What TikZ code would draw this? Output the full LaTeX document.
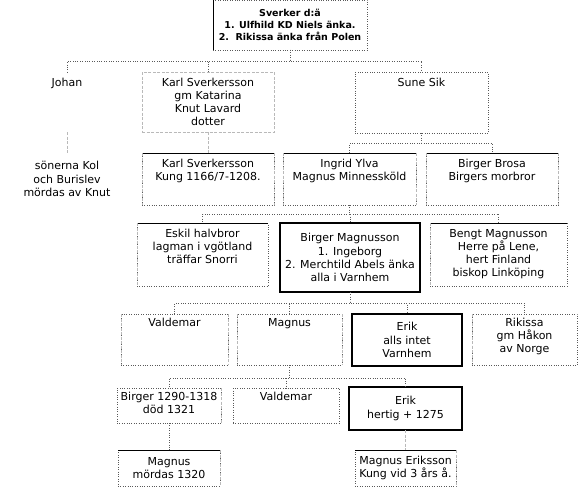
\documentclass[tikz,border=0pt]{standalone}
\usepackage{fontspec}
\setmainfont{DejaVu Sans}
% top aligned and centred card text
\newcommand{\card}[4][6pt]{\parbox[c][#3][t]{#2}{\centering\vspace*{#1}#4\par}}
\newcommand{\cardmid}[3]{\parbox[c][#2][c]{#1}{\centering #3\par}}
\begin{document}
\begin{tikzpicture}[x=1pt,y=-1pt,
  font=\fontsize{11}{13.2}\selectfont,
  box/.style={draw=black!65,dotted,inner sep=0pt,outer sep=0pt,anchor=north west},
  bare/.style={inner sep=0pt,outer sep=0pt,anchor=north west},
  heavy/.style={draw=black,solid,line width=2.4pt,inner sep=0pt,outer sep=0pt,anchor=north west},
  link/.style={draw=black!65,dotted},
  glink/.style={draw=gray!55,dash pattern=on 3pt off 1.5pt,line width=0.9pt},
  lid/.style={append after command={(\tikzlastnode.north west) edge[solid,draw=black,line width=0.8pt] (\tikzlastnode.north east)}},
  wall/.style={append after command={(\tikzlastnode.north west) edge[solid,draw=black,line width=0.8pt] (\tikzlastnode.south west)}},
  lgray/.style={append after command={(\tikzlastnode.north west) edge[glink] (\tikzlastnode.south west)}},
  rgray/.style={append after command={(\tikzlastnode.north east) edge[glink] (\tikzlastnode.south east)}}]
\useasboundingbox (0,0) rectangle (580,487);
% Sverker and his children
\node[box,wall,font=\bfseries\fontsize{9.5}{12}\selectfont] (sverker) at (213,0) {\cardmid{154pt}{50pt}{Sverker d:ä\\1. Ulfhild KD Niels änka.\\2.\ \ Rikissa änka från Polen}};
\node[bare] (johan) at (1,72) {\card{132pt}{60pt}{Johan}};
\node[box,draw=gray!55,dash pattern=on 3pt off 1.5pt,line width=0.9pt] (karl) at (142,72) {\card{132pt}{60pt}{Karl Sverkersson\\gm Katarina\\Knut Lavard\\dotter}};
\node[box] (sune) at (355,72) {\card{133pt}{61pt}{Sune Sik}};
% second generation
\node[bare] (kol) at (1,153) {\cardmid{132pt}{52pt}{sönerna Kol\\och Burislev\\mördas av Knut}};
\node[box,lid,lgray,rgray] (karlkung) at (142,153) {\card{132pt}{52pt}{Karl Sverkersson\\Kung 1166/7-1208.}};
\node[box,lid,lgray,rgray] (ingrid) at (283,153) {\card{133pt}{52pt}{Ingrid Ylva\\Magnus Minnessköld}};
\node[box,lid,lgray,rgray] (brosa) at (426,153) {\card{132pt}{52pt}{Birger Brosa\\Birgers morbror}};
% Ingrid's sons
\node[box,lid,lgray] (eskil) at (137,223) {\card{131pt}{63pt}{Eskil halvbror\\lagman i vgötland\\träffar Snorri}};
\node[heavy] (birger) at (280,223) {\cardmid{140pt}{69pt}{Birger Magnusson\\1. Ingeborg\\2. Merchtild Abels änka\\alla i Varnhem}};
\node[box,lid,lgray] (bengt) at (430,223) {\card{137pt}{63pt}{Bengt Magnusson\\Herre på Lene,\\hert Finland\\biskop Linköping}};
% Birger's children
\node[box,lgray,rgray] (valdemar) at (121,314) {\card[4pt]{107pt}{51pt}{Valdemar}};
\node[box,lgray,rgray] (magnus) at (237,314) {\card[4pt]{105pt}{51pt}{Magnus}};
\node[heavy] (erik) at (352,314) {\cardmid{110pt}{52pt}{Erik\\alls intet\\Varnhem}};
\node[box,lgray] (rikissa) at (472,314) {\card[4pt]{105pt}{51pt}{Rikissa\\gm Håkon\\av Norge}};
% Magnus' children
\node[box,rgray] (birgerk) at (117,388) {\card[4pt]{104pt}{35pt}{Birger 1290-1318\\död 1321}};
\node[box] (valdemarb) at (233,388) {\card[4pt]{106pt}{35pt}{Valdemar}};
\node[heavy] (erikh) at (349,387) {\cardmid{113pt}{43pt}{Erik\\hertig + 1275}};
% grandchildren
\node[box,lid,rgray] (magnusm) at (118,450) {\cardmid{102pt}{36pt}{Magnus\\mördas 1320}};
\node[box,lid,rgray] (magnuse) at (355,450) {\cardmid{101pt}{36pt}{Magnus Eriksson\\Kung vid 3 års å.}};
% Draw the connectors
\foreach \c in {johan,karl,sune}
  \draw[link] (sverker.south) -- ++(0,11) -| (\c.north);
\draw[glink] (johan.south) -- (kol.north);
\draw[glink] (karl.south) -- (karlkung.north);
\foreach \c in {ingrid,brosa}
  \draw[link] (sune.south) -- ++(0,10) -| (\c.north);
\foreach \c in {eskil,birger,bengt}
  \draw[link] (ingrid.south) -- ++(0,9) -| (\c.north);
\foreach \c in {valdemar,magnus,erik,rikissa}
  \draw[link] (birger.south) -- ++(0,11) -| (\c.north);
\foreach \c in {birgerk,valdemarb,erikh}
  \draw[link] (magnus.south) -- ++(0,13) -| (\c.north);
\draw[link] (birgerk.south) -- (magnusm.north);
\draw[glink] (erikh.south) -- (magnuse.north);
\end{tikzpicture}
\end{document}
